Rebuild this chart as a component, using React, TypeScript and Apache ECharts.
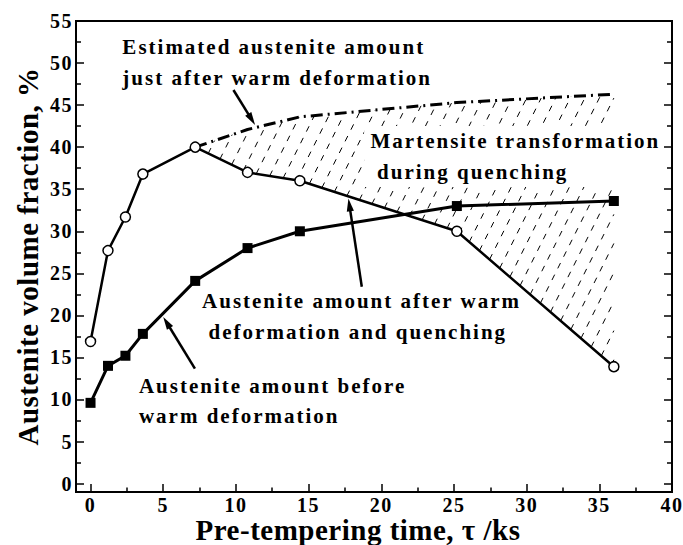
import React, { useEffect, useRef } from "react";
import * as echarts from "echarts";

// ---- data ----
const timeKs = [0, 1.2, 2.4, 3.6, 7.2, 10.8, 14.4, 25.2, 36];
const austeniteAfterQuench = [16.9, 27.7, 31.7, 36.8, 40.0, 37.0, 36.0, 30.0, 13.9];
const austeniteBeforeDeform = [9.6, 14.0, 15.2, 17.8, 24.1, 28.0, 30.0, 33.0, 33.6];
const estimatedTimeKs = [7.2, 10.8, 14.4, 25.2, 36];
const estimatedAfterDeform = [40.0, 42.1, 43.6, 45.3, 46.3];

const xMajorTicks = [0, 5, 10, 15, 20, 25, 30, 35, 40];
const xMinorTicks = [2.5, 7.5, 12.5, 17.5, 22.5, 27.5, 32.5, 37.5];
const yMajorTicks = [0, 5, 10, 15, 20, 25, 30, 35, 40, 45, 50, 55];
const yMinorTicks = [2.5, 7.5, 12.5, 17.5, 22.5, 27.5, 32.5, 37.5, 42.5, 47.5, 52.5];

// annotation texts (data coordinates of left/middle anchor)
const annotationTexts: { text: string; at: [number, number] }[] = [
  { text: "Estimated austenite amount", at: [2.19, 51.9] },
  { text: "just after warm deformation", at: [2.19, 48.2] },
  { text: "Martensite transformation", at: [19.26, 40.73] },
  { text: "during quenching", at: [19.71, 37.0] },
  { text: "Austenite amount after warm", at: [7.67, 21.7] },
  { text: "deformation and quenching", at: [8.12, 18.0] },
  { text: "Austenite amount before", at: [3.33, 11.58] },
  { text: "warm deformation", at: [3.33, 8.07] },
];
const arrows: { from: [number, number]; to: [number, number] }[] = [
  { from: [9.83, 46.8], to: [11.32, 42.64] },
  { from: [18.66, 23.4], to: [17.74, 33.9] },
  { from: [7.18, 13.68], to: [5.0, 19.82] },
];
// white box behind the "Martensite transformation" label (data coords)
const maskBox = { x0: 18.82, x1: 39.35, y0: 35.25, y1: 42.51 };
const hatchRefY = 28.55;
const hatchSlope = 2; // pixel rise per pixel run

const FONT = "'Liberation Serif', 'Times New Roman', serif";

export default function App() {
  const ref = useRef<HTMLDivElement>(null);

  useEffect(() => {
    if (!ref.current) return;
    const chart = echarts.init(ref.current, null, { renderer: "svg" });

    const tickStyle = { color: "#000", width: 1.5 };
    const baseX = {
      type: "value",
      min: -1,
      max: 40,
      axisLine: { show: false, onZero: false },
      splitLine: { show: false },
    };
    const baseY = {
      type: "value",
      min: -1,
      max: 55,
      axisLine: { show: false, onZero: false },
      splitLine: { show: false },
    };
    const labelStyle = {
      color: "#000",
      fontFamily: FONT,
      fontWeight: "bold",
      fontSize: 20,
    };

    const hatchRender = (params: any, api: any) => {
      const bottom = timeKs
        .map((t, i) => [t, austeniteAfterQuench[i]])
        .filter((p) => p[0] >= estimatedTimeKs[0])
        .map((p) => api.coord(p));
      const top = estimatedTimeKs.map((t, i) => api.coord([t, estimatedAfterDeform[i]]));
      const poly = [...bottom, ...top.slice().reverse()];
      const unit = api.size([1, 0])[0];
      const r = api.coord([0, hatchRefY]);
      const len = Math.hypot(1, hatchSlope);
      const d = [1 / len, -hatchSlope / len];
      const children: any[] = [];
      for (let n = -10; n < 70; n++) {
        const A = [r[0] + n * unit, r[1]];
        const ts: number[] = [];
        for (let i = 0; i < poly.length; i++) {
          const E1 = poly[i];
          const E2 = poly[(i + 1) % poly.length];
          const ex = E2[0] - E1[0];
          const ey = E2[1] - E1[1];
          const den = d[0] * ey - d[1] * ex;
          if (Math.abs(den) < 1e-9) continue;
          const wx = E1[0] - A[0];
          const wy = E1[1] - A[1];
          const t = (wx * ey - wy * ex) / den;
          const s = (wx * d[1] - wy * d[0]) / den;
          if (s >= 0 && s < 1) ts.push(t);
        }
        ts.sort((a, b) => a - b);
        for (let k = 0; k + 1 < ts.length; k += 2) {
          const p0 = [A[0] + d[0] * ts[k], A[1] + d[1] * ts[k]];
          const p1 = [A[0] + d[0] * ts[k + 1], A[1] + d[1] * ts[k + 1]];
          if (Math.hypot(p1[0] - p0[0], p1[1] - p0[1]) < 2) continue;
          children.push({
            type: "line",
            shape: { x1: p0[0], y1: p0[1], x2: p1[0], y2: p1[1] },
            style: { stroke: "#000", lineWidth: 1, lineDash: [6, 7] },
          });
        }
      }
      return { type: "group", children };
    };

    chart.setOption({
      animation: false,
      backgroundColor: "#fff",
      grid: {
        left: 76,
        right: 11,
        top: 21,
        bottom: 53,
        show: true,
        borderColor: "#000",
        borderWidth: 2,
        backgroundColor: "transparent",
        outerBoundsMode: "none",
      },
      xAxis: [
        {
          ...baseX,
          position: "bottom",
          axisTick: { show: true, inside: true, length: 8, customValues: xMajorTicks, lineStyle: tickStyle },
          axisLabel: { ...labelStyle, customValues: xMajorTicks, margin: 3 },
        },
        {
          ...baseX,
          position: "bottom",
          axisLabel: { show: false },
          axisTick: { show: true, inside: true, length: 4.5, customValues: xMinorTicks, lineStyle: tickStyle },
        },
      ],
      yAxis: [
        {
          ...baseY,
          position: "left",
          axisTick: { show: true, inside: true, length: 8, customValues: yMajorTicks, lineStyle: tickStyle },
          axisLabel: { ...labelStyle, customValues: yMajorTicks, margin: 3 },
        },
        {
          ...baseY,
          position: "left",
          axisLabel: { show: false },
          axisTick: { show: true, inside: true, length: 5, customValues: yMinorTicks, lineStyle: tickStyle },
        },
        {
          ...baseY,
          position: "right",
          axisLabel: { show: false },
          axisTick: { show: true, inside: true, length: 8, customValues: yMajorTicks, lineStyle: tickStyle },
        },
        {
          ...baseY,
          position: "right",
          axisLabel: { show: false },
          axisTick: { show: true, inside: true, length: 5, customValues: yMinorTicks, lineStyle: tickStyle },
        },
      ],
      series: [
        {
          type: "line",
          name: "Austenite amount after warm deformation and quenching",
          data: timeKs.map((t, i) => [t, austeniteAfterQuench[i]]),
          symbol: "circle",
          symbolSize: 10,
          itemStyle: { color: "#fff", borderColor: "#000", borderWidth: 1.5 },
          lineStyle: { color: "#000", width: 2.5 },
          z: 5,
        },
        {
          type: "line",
          name: "Austenite amount before warm deformation",
          data: timeKs.map((t, i) => [t, austeniteBeforeDeform[i]]),
          symbol: "rect",
          symbolSize: 10,
          itemStyle: { color: "#000" },
          lineStyle: { color: "#000", width: 3 },
          z: 4,
        },
        {
          type: "line",
          name: "Estimated austenite amount just after warm deformation",
          data: estimatedTimeKs.map((t, i) => [t, estimatedAfterDeform[i]]),
          symbol: "none",
          lineStyle: { color: "#000", width: 3, type: [12, 5, 2, 5] },
          z: 3,
        },
        {
          type: "custom",
          name: "Martensite transformation during quenching",
          data: [[0, 0]],
          renderItem: hatchRender,
          silent: true,
          z: 1,
        },
      ],
    });

    const toPx = (p: number[]) => chart.convertToPixel({ seriesIndex: 0 }, p) as number[];
    const graphics: any[] = [];

    const m0 = toPx([maskBox.x0, maskBox.y1]);
    const m1 = toPx([maskBox.x1, maskBox.y0]);
    graphics.push({
      type: "rect",
      z: 100,
      shape: { x: m0[0], y: m0[1], width: m1[0] - m0[0], height: m1[1] - m0[1] },
      style: { fill: "#fff" },
      silent: true,
    });

    annotationTexts.forEach((a) => {
      const p = toPx(a.at);
      graphics.push({
        type: "text",
        z: 101,
        x: p[0],
        y: p[1],
        style: {
          text: a.text,
          fill: "#000",
          font: `bold 21px ${FONT}`,
          fontFamily: FONT,
          fontWeight: "bold",
          fontSize: 21,
          textAlign: "left",
          textVerticalAlign: "middle",
          verticalAlign: "middle",
        },
      });
    });

    arrows.forEach((a) => {
      const s = toPx(a.from);
      const e = toPx(a.to);
      const dx = e[0] - s[0];
      const dy = e[1] - s[1];
      const L = Math.hypot(dx, dy);
      const ux = dx / L;
      const uy = dy / L;
      const headLen = 13;
      const headW = 3.6;
      const bx = e[0] - ux * headLen;
      const by = e[1] - uy * headLen;
      graphics.push({
        type: "line",
        z: 101,
        shape: { x1: s[0], y1: s[1], x2: bx + ux * 2, y2: by + uy * 2 },
        style: { stroke: "#000", lineWidth: 2.5 },
      });
      graphics.push({
        type: "polygon",
        z: 101,
        shape: {
          points: [
            [e[0], e[1]],
            [bx - uy * headW, by + ux * headW],
            [bx + uy * headW, by - ux * headW],
          ],
        },
        style: { fill: "#000" },
      });
    });

    // axis titles
    const g0 = toPx([-1, -1]);
    const g1 = toPx([40, 55]);
    graphics.push({
      type: "text",
      z: 101,
      x: 358,
      y: 530,
      style: {
        text: "Pre-tempering time, τ /ks",
        fill: "#000",
        font: `bold 29px ${FONT}`,
        fontFamily: FONT,
        fontWeight: "bold",
        fontSize: 29,
        textAlign: "center",
        textVerticalAlign: "middle",
        verticalAlign: "middle",
      },
    });
    graphics.push({
      type: "text",
      z: 101,
      x: 27.6,
      y: (g0[1] + g1[1]) / 2,
      rotation: Math.PI / 2,
      style: {
        text: "Austenite volume fraction, %",
        fill: "#000",
        font: `bold 29px ${FONT}`,
        fontFamily: FONT,
        fontWeight: "bold",
        fontSize: 29,
        textAlign: "center",
        textVerticalAlign: "middle",
        verticalAlign: "middle",
      },
    });

    chart.setOption({ graphic: graphics });

    return () => chart.dispose();
  }, []);

  return (
    <>
      <style>{`
        #chart text[style*="21px"] { letter-spacing: 2px; }
        #chart text[style*="20px"] { letter-spacing: 1.5px; }
        #chart text[style*="29px"] { letter-spacing: 0.5px; }
      `}</style>
      <div
        id="chart"
        ref={ref}
        style={{ position: "fixed", left: 0, top: 0, width: 683, height: 545, background: "#fff" }}
      />
    </>
  );
}
